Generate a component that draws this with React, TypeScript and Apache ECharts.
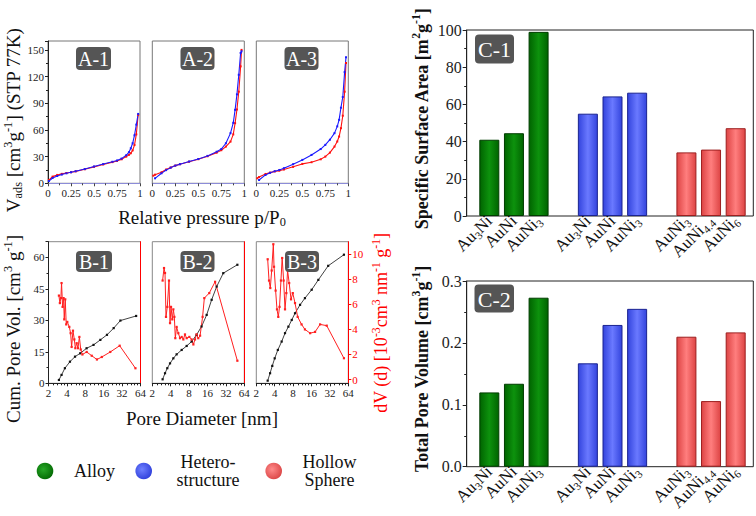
import React, { useEffect, useRef } from "react";
import * as echarts from "echarts";

const FONT = "Liberation Serif";

// ---------- A: N2 isotherms (relative pressure p/P0 -> V_ads) ----------
const A1_P = [0.01, 0.05, 0.1, 0.15, 0.2, 0.25, 0.3, 0.4, 0.5, 0.6, 0.7, 0.75, 0.8, 0.85, 0.88, 0.9, 0.92, 0.94, 0.96, 0.98];
const A1_RED = [3.7, 7.5, 9.4, 10.6, 11.6, 12.4, 13.4, 15.8, 18.5, 21.2, 23.8, 25.0, 27.0, 30.0, 32.0, 33.8, 37, 43, 55, 77];
const A1_BLUE = [2.6, 6.0, 8.2, 9.8, 11.2, 12.4, 13.6, 16.0, 18.8, 21.6, 24.2, 25.6, 27.8, 31.5, 35, 39.4, 45, 54, 66, 78];

const A2_P = [0.01, 0.03, 0.1, 0.15, 0.2, 0.25, 0.3, 0.4, 0.5, 0.6, 0.7, 0.75, 0.8, 0.85, 0.88, 0.9, 0.92, 0.94, 0.96, 0.97];
const A2_RED = [8.6, 9.7, 12.4, 15.5, 17.8, 19.9, 21.4, 24.3, 27.1, 30.4, 34.5, 37.2, 41.3, 46.9, 55, 67.6, 83, 103, 131.5, 150];
const A2_BLUE = [null, 5.6, 11.3, 14.8, 17.6, 19.9, 21.5, 24.5, 27.3, 30.8, 35.5, 38.5, 45, 56.4, 68, 82.6, 100, 122, 146.6, 148.4];

const A3_P = [0.01, 0.03, 0.1, 0.15, 0.2, 0.25, 0.3, 0.4, 0.5, 0.6, 0.7, 0.75, 0.8, 0.85, 0.88, 0.9, 0.92, 0.94, 0.96, 0.975];
const A3_RED = [5.6, 7, 10.5, 12, 13.3, 14.2, 15.5, 18.5, 21.8, 23.7, 27, 30, 34.5, 41.3, 47, 52.6, 62, 76, 103, 135.3];
const A3_BLUE = [null, 3.7, 9.4, 11.8, 13.6, 15, 17, 21.5, 26.3, 31.9, 38.5, 43.2, 49, 56.4, 64, 71.4, 85, 97, 125, 141.6];

// ---------- B: pore size distribution ----------
const B1_CUM_D = [2.96, 3.27, 3.71, 4.49, 5.43, 6.6, 8.4, 10.9, 14.1, 18.1, 23.3, 30, 54.3];
const B1_CUM_V = [1.6, 4, 7.2, 10.3, 12.7, 14.3, 16.7, 18.3, 20.7, 23.1, 26.3, 29.9, 32.1];
const B1_DV_D = [2.96, 3.07, 3.19, 3.27, 3.4, 3.53, 3.62, 3.76, 3.9, 4.06, 4.38, 4.6, 4.78, 5.03, 5.29, 5.5, 5.78, 6.08, 6.4, 6.73, 7.17, 8.43, 10.2, 12.4, 14.9, 20.5, 29.2, 52.9];
const B1_DV = [6.7, 6.1, 6.5, 7.7, 5.8, 6.5, 4.8, 6.4, 4.4, 4.6, 4.2, 3.7, 2.6, 3.9, 3.2, 2.5, 2.9, 2.5, 3.4, 2.4, 2.0, 2.2, 1.9, 1.6, 1.8, 2.2, 2.7, 0.9];

const B2_CUM_D = [2.95, 3.23, 3.52, 3.9, 4.42, 5.0, 6.05, 7.3, 8.8, 10.6, 12.8, 15.5, 18.7, 22.6, 29.0, 49.3];
const B2_CUM_V = [1.9, 4.8, 7.2, 9.5, 11.9, 13.8, 15.9, 17.8, 19.9, 23.1, 27.1, 32.6, 39.8, 46.1, 52.5, 56.5];
const B2_DV_D = [2.95, 3.11, 3.23, 3.35, 3.52, 3.75, 3.9, 4.05, 4.25, 4.42, 4.59, 4.76, 5.0, 5.33, 5.68, 6.05, 6.44, 6.85, 7.3, 8.07, 8.8, 9.4, 10.0, 10.6, 11.3, 12.1, 13.3, 14.2, 17.1, 21.3, 49.3];
const B2_DV = [7.9, 8.9, 8.5, 5.0, 5.8, 7.9, 4.5, 5.8, 4.8, 5.6, 5.0, 3.3, 4.2, 3.7, 3.3, 3.4, 3.2, 3.6, 3.3, 3.4, 3.2, 2.8, 3.2, 3.6, 3.3, 3.5, 5.0, 6.5, 6.9, 7.8, 1.5];

const B3_CUM_D = [3.07, 3.36, 3.65, 4.0, 4.5, 5.2, 5.9, 6.7, 7.6, 8.6, 10.4, 12.5, 16.1, 20.7, 30.0, 54.3];
const B3_CUM_V = [1.25, 4.8, 8.3, 11.9, 15.9, 19.9, 23.9, 27.0, 30.2, 33.4, 37.4, 40.6, 44.6, 49.3, 56, 61.3];
const B3_DV_D = [3.07, 3.23, 3.39, 3.57, 3.8, 3.9, 4.14, 4.36, 4.58, 4.8, 5.06, 5.3, 5.6, 5.9, 6.2, 6.5, 6.9, 7.4, 7.9, 8.6, 9.5, 11.0, 12.5, 15.2, 18.3, 22.1, 28.4, 54.3];
const B3_DV = [9.6, 7.9, 7.3, 8.7, 10.8, 9.0, 7.1, 5.6, 5.0, 5.8, 7.9, 9.7, 7.9, 5.6, 6.9, 8.7, 7.7, 6.4, 6.9, 6.1, 5.0, 4.4, 4.0, 3.7, 3.8, 4.4, 4.3, 1.7];

const B_RIGHT_TICKS = [0, 2, 4, 6, 8, 10];

// ---------- C: bar charts ----------
const C_KEYS = ["Au3Ni-alloy", "AuNi-alloy", "AuNi3-alloy", "gap-1", "Au3Ni-hetero", "AuNi-hetero", "AuNi3-hetero", "gap-2", "AuNi3-hollow", "AuNi4.4-hollow", "AuNi6-hollow"];
const C_TICK_LABELS = ["Au_{3}Ni", "AuNi", "AuNi_{3}", "", "Au_{3}Ni", "AuNi", "AuNi_{3}", "", "AuNi_{3}", "AuNi_{4.4}", "AuNi_{6}"];
const ALLOY_AREA = [41, 44.5, 99];
const HETERO_AREA = [55, 64.3, 66.3];
const HOLLOW_AREA = [34.2, 35.7, 47.2];
const ALLOY_VOL = [0.12, 0.134, 0.273];
const HETERO_VOL = [0.167, 0.229, 0.255];
const HOLLOW_VOL = [0.21, 0.106, 0.217];

const LEGEND_NAMES = ["Alloy", "Hetero-\nstructure", "Hollow\nSphere"];

// ---------- titles ----------
const A_Y_TITLE = "V_{ads} [cm^{3}g^{-1}] (STP 77K)";
const A_X_TITLE = "Relative pressure p/P_{0}";
const B_Y_TITLE = "Cum. Pore Vol. [cm^{3} g^{-1}]";
const B_Y2_TITLE = "dV (d) [10^{-3}cm^{3} nm^{-1} g^{-1}]";
const B_X_TITLE = "Pore Diameter [nm]";
const C1_Y_TITLE = "Specific Surface Area [m^{2}g^{-1}]";
const C2_Y_TITLE = "Total Pore Volume [cm^{3}g^{-1}]";

function toRich(s: string): string {
  if (!s) return "";
  return s
    .split("\n")
    .map((line) => {
      let out = "";
      const re = /([_^])\{([^}]*)\}/g;
      let last = 0;
      let m: RegExpExecArray | null;
      while ((m = re.exec(line))) {
        if (m.index > last) out += `{n|${line.slice(last, m.index)}}`;
        out += `{${m[1] === "_" ? "sb" : "sp"}|${m[2]}}`;
        last = re.lastIndex;
      }
      if (last < line.length) out += `{n|${line.slice(last)}}`;
      return out;
    })
    .join("\n");
}

function richStyles(size: number, color = "#111", weight: any = "normal", lh = 1.2) {
  const base = { fontFamily: FONT, color, fill: color, fontWeight: weight };
  return {
    n: { ...base, fontSize: size, lineHeight: size * lh },
    sb: { ...base, fontSize: size * 0.65, lineHeight: size * 0.55, verticalAlign: "bottom" },
    sp: { ...base, fontSize: size * 0.65, lineHeight: size * 0.55, verticalAlign: "top" },
  };
}

const pairs = (xs: number[], ys: (number | null)[]) =>
  xs.map((x, i) => [x, ys[i]]).filter((p) => p[1] !== null && p[1] !== undefined);

const slot = (vals: number[], start: number) =>
  C_KEYS.map((_, i) => (i >= start && i < start + vals.length ? vals[i - start] : "-"));

const barFill = (edge: string, mid: string) =>
  new echarts.graphic.LinearGradient(0, 0, 1, 0, [
    { offset: 0, color: edge },
    { offset: 0.5, color: mid },
    { offset: 1, color: edge },
  ]);

const GREEN = { edge: "#006400", mid: "#0d920d", border: "#003d00" };
const BLUE = { edge: "#3344dd", mid: "#6a79ff", border: "#1a2390" };
const RED = { edge: "#dd4444", mid: "#ff7e7e", border: "#9c1f1f" };

// axis label drawn as rich text so the serif font is applied
function tickLabel(size: number, color: string, fmt: (v: number) => string, extra: any = {}) {
  return {
    margin: 4,
    ...extra,
    formatter: (v: number) => `{n|${fmt(v)}}`,
    rich: richStyles(size, color),
  };
}

function buildOption() {
  const grids: any[] = [];
  const xAxes: any[] = [];
  const yAxes: any[] = [];
  const series: any[] = [];
  const num = (v: number) => String(Math.round(v * 1000) / 1000);

  const aLefts = [48, 152.3, 256.3];
  const A_SETS = [
    [A1_P, A1_RED, A1_BLUE],
    [A2_P, A2_RED, A2_BLUE],
    [A3_P, A3_RED, A3_BLUE],
  ] as any[];
  aLefts.forEach((left, i) => {
    grids.push({ left, top: 41, width: 92, height: 142.3, show: true, borderColor: "#777", borderWidth: 1, outerBoundsMode: "none" });
    const gi = grids.length - 1;
    xAxes.push({
      gridIndex: gi, type: "value", min: 0, max: 1, interval: 0.25,
      axisLine: { show: true, onZero: false, lineStyle: { color: "#8c8cd8", width: 1.2 } },
      axisTick: { show: true, length: 3, lineStyle: { color: "#444" } },
      minorTick: { show: true, splitNumber: 2, length: 2, lineStyle: { color: "#444" } },
      axisLabel: tickLabel(11, "#222", num, { margin: 3 }),
      splitLine: { show: false },
    });
    yAxes.push({
      gridIndex: gi, type: "value", min: 0, max: 160, interval: 30,
      axisLine: { show: i === 0, onZero: false, lineStyle: { color: "#222" } },
      axisTick: { show: i === 0, length: 3, lineStyle: { color: "#222" } },
      minorTick: { show: i === 0, splitNumber: 2, length: 2, lineStyle: { color: "#222" } },
      axisLabel: { show: i === 0, showMaxLabel: false, ...tickLabel(11, "#222", num) },
      splitLine: { show: false },
    });
    const [P, R, B] = A_SETS[i];
    const xi = xAxes.length - 1;
    const yi = yAxes.length - 1;
    series.push({
      type: "line", xAxisIndex: xi, yAxisIndex: yi, data: pairs(P, R),
      symbol: "rect", symbolSize: 2, showSymbol: true,
      lineStyle: { color: "#ff1010", width: 1.1 }, itemStyle: { color: "#ff1010" },
    });
    series.push({
      type: "line", xAxisIndex: xi, yAxisIndex: yi, data: pairs(P, B),
      symbol: "rect", symbolSize: 2, showSymbol: true,
      lineStyle: { color: "#1a1aff", width: 1.1 }, itemStyle: { color: "#1a1aff" },
    });
  });

  const bLefts = [48.5, 152.3, 256.3];
  const B_SETS = [
    [B1_CUM_D, B1_CUM_V, B1_DV_D, B1_DV],
    [B2_CUM_D, B2_CUM_V, B2_DV_D, B2_DV],
    [B3_CUM_D, B3_CUM_V, B3_DV_D, B3_DV],
  ] as any[];
  bLefts.forEach((left, i) => {
    grids.push({ left, top: 241.7, width: 92, height: 141.6, show: true, borderColor: "#888", borderWidth: 1, outerBoundsMode: "none" });
    const gi = grids.length - 1;
    xAxes.push({
      gridIndex: gi, type: "log", logBase: 2, min: 2, max: 64,
      axisLine: { show: true, onZero: false, lineStyle: { color: "#222" } },
      axisTick: { show: true, length: 3, lineStyle: { color: "#222" } },
      minorTick: { show: true, splitNumber: 5, length: 2, lineStyle: { color: "#222" } },
      axisLabel: tickLabel(11, "#222", (v) => String(Math.round(v)), { margin: 3 }),
      splitLine: { show: false },
    });
    const xi = xAxes.length - 1;
    yAxes.push({
      gridIndex: gi, type: "value", min: 0, max: 67.5, interval: 15,
      axisLine: { show: i === 0, onZero: false, lineStyle: { color: "#222" } },
      axisTick: { show: i === 0, length: 3, lineStyle: { color: "#222" } },
      minorTick: { show: i === 0, splitNumber: 2, length: 2, lineStyle: { color: "#222" } },
      axisLabel: { show: i === 0, showMaxLabel: false, ...tickLabel(11, "#222", num) },
      splitLine: { show: false },
    });
    const yl = yAxes.length - 1;
    yAxes.push({
      gridIndex: gi, type: "value", position: "right", min: -0.3, max: 11,
      axisLine: { show: true, onZero: false, lineStyle: { color: "#ff0000" } },
      axisTick: { show: i === 2, length: 3, customValues: B_RIGHT_TICKS, lineStyle: { color: "#ff0000" } },
      axisLabel: { show: i === 2, customValues: B_RIGHT_TICKS, ...tickLabel(11, "#ff0000", num) },
      splitLine: { show: false },
    });
    const yr = yAxes.length - 1;
    const [CD, CV, DD, DV] = B_SETS[i];
    series.push({
      type: "line", xAxisIndex: xi, yAxisIndex: yl, data: pairs(CD, CV),
      symbol: "rect", symbolSize: 2.2, showSymbol: true,
      lineStyle: { color: "#111", width: 0.8 }, itemStyle: { color: "#111" },
    });
    series.push({
      type: "line", xAxisIndex: xi, yAxisIndex: yr, data: pairs(DD, DV),
      symbol: "rect", symbolSize: 2.2, showSymbol: true,
      lineStyle: { color: "#ff2020", width: 1 }, itemStyle: { color: "#ff2020" },
    });
  });

  const C_PANELS = [
    { top: 30, height: 186, max: 100, interval: 20, fmt: (v: number) => String(v), data: [ALLOY_AREA, HETERO_AREA, HOLLOW_AREA] },
    { top: 281, height: 185.7, max: 0.3, interval: 0.1, fmt: (v: number) => v.toFixed(1), data: [ALLOY_VOL, HETERO_VOL, HOLLOW_VOL] },
  ];
  const tickRich = richStyles(17, "#111");
  C_PANELS.forEach((p) => {
    grids.push({ left: 466.7, top: p.top, width: 286.6, height: p.height, show: true, borderColor: "#222", borderWidth: 1, outerBoundsMode: "none" });
    const gf = grids.length - 1;
    xAxes.push({ gridIndex: gf, type: "value", min: 0, max: 1, show: false });
    yAxes.push({
      gridIndex: gf, type: "value", min: 0, max: p.max, interval: p.interval,
      axisLine: { show: true, onZero: false, lineStyle: { color: "#222" } },
      axisTick: { show: true, length: 4, lineStyle: { color: "#222" } },
      minorTick: { show: true, splitNumber: 2, length: 2.5, lineStyle: { color: "#222" } },
      axisLabel: tickLabel(16, "#222", p.fmt, { margin: 5 }),
      splitLine: { show: false },
    });
    grids.push({ left: 477, top: p.top, width: 271, height: p.height, outerBoundsMode: "none" });
    const gb = grids.length - 1;
    xAxes.push({
      gridIndex: gb, type: "category", data: C_KEYS,
      axisLine: { show: false }, axisTick: { show: false },
      axisLabel: {
        interval: 0, rotate: 45, margin: 2,
        formatter: (_v: string, idx: number) => toRich(C_TICK_LABELS[idx]),
        rich: tickRich,
      },
    });
    yAxes.push({ gridIndex: gb, type: "value", min: 0, max: p.max, show: false });
    const xi = xAxes.length - 1;
    const yi = yAxes.length - 1;
    [GREEN, BLUE, RED].forEach((c, k) => {
      series.push({
        type: "bar", xAxisIndex: xi, yAxisIndex: yi, data: slot(p.data[k], k * 4),
        barWidth: 20, barGap: "-100%",
        itemStyle: { color: barFill(c.edge, c.mid), borderColor: c.border, borderWidth: 1 },
      });
    });
  });

  // ---------- graphic: titles, tags, legend ----------
  const graphic: any[] = [];
  const text = (t: string, x: number, y: number, size: number, opts: any = {}) => {
    graphic.push({
      type: "text", x, y, rotation: opts.rot ? Math.PI / 2 : 0, z: opts.z || 100,
      style: {
        text: toRich(t), rich: richStyles(size, opts.color || "#111", opts.weight || "normal", opts.lh || 1.2),
        align: opts.align || "center", verticalAlign: "middle", fontFamily: FONT, fontSize: size,
        fill: opts.color || "#111",
      },
    });
  };
  text(A_Y_TITLE, 13, 120, 19, { rot: true });
  text(A_X_TITLE, 202, 217, 19);
  text(B_Y_TITLE, 13, 329, 19, { rot: true });
  text(B_X_TITLE, 202, 418, 19);
  text(B_Y2_TITLE, 381, 323, 18, { rot: true, color: "#ff0000" });
  text(C1_Y_TITLE, 421.5, 119, 18, { rot: true, weight: "bold" });
  text(C2_Y_TITLE, 421.5, 369, 18, { rot: true, weight: "bold" });

  const tag = (t: string, x: number, y: number, w: number, h: number, size: number) => {
    graphic.push({ type: "rect", z: 100, shape: { x, y, width: w, height: h, r: 4 }, style: { fill: "#555555" } });
    text(t, x + w / 2, y + h / 2 + 0.5, size, { color: "#ffffff", z: 101, lh: 1 });
  };
  tag("A-1", 76, 47, 35, 23, 20);
  tag("A-2", 180.5, 47, 34, 23, 20);
  tag("A-3", 284.5, 47, 34, 23, 20);
  tag("B-1", 76, 251, 36, 21, 20);
  tag("B-2", 180.5, 251, 34, 21, 20);
  tag("B-3", 285, 251, 34, 21, 20);
  tag("C-1", 475, 34.5, 39, 29, 22);
  tag("C-2", 474.5, 284.5, 39.5, 28, 22);

  const legendColors = [
    ["#27a827", "#006400"],
    ["#6f80ff", "#2a3ad8"],
    ["#ff8a8a", "#d84040"],
  ];
  const circleX = [45, 143.7, 273.7];
  const textX = [74, 208, 329.5];
  LEGEND_NAMES.forEach((name, i) => {
    graphic.push({
      type: "circle", z: 100, shape: { cx: circleX[i], cy: 471, r: 8.3 },
      style: {
        fill: new echarts.graphic.RadialGradient(0.4, 0.4, 0.7, [
          { offset: 0, color: legendColors[i][0] },
          { offset: 1, color: legendColors[i][1] },
        ]),
      },
    });
    text(name, textX[i], 471, 18, { align: i === 0 ? "left" : "center", lh: 1.05 });
  });

  return {
    animation: false,
    backgroundColor: "#ffffff",
    textStyle: { fontFamily: FONT },
    grid: grids,
    xAxis: xAxes,
    yAxis: yAxes,
    series,
    graphic,
  };
}

export default function App() {
  const ref = useRef<HTMLDivElement>(null);
  useEffect(() => {
    if (!ref.current) return;
    const chart = echarts.init(ref.current, null, { renderer: "svg" });
    chart.setOption(buildOption() as any);
    return () => chart.dispose();
  }, []);
  return (
    <div
      ref={ref}
      style={{ position: "absolute", left: 0, top: 0, width: 756, height: 516, background: "#fff" }}
    />
  );
}
